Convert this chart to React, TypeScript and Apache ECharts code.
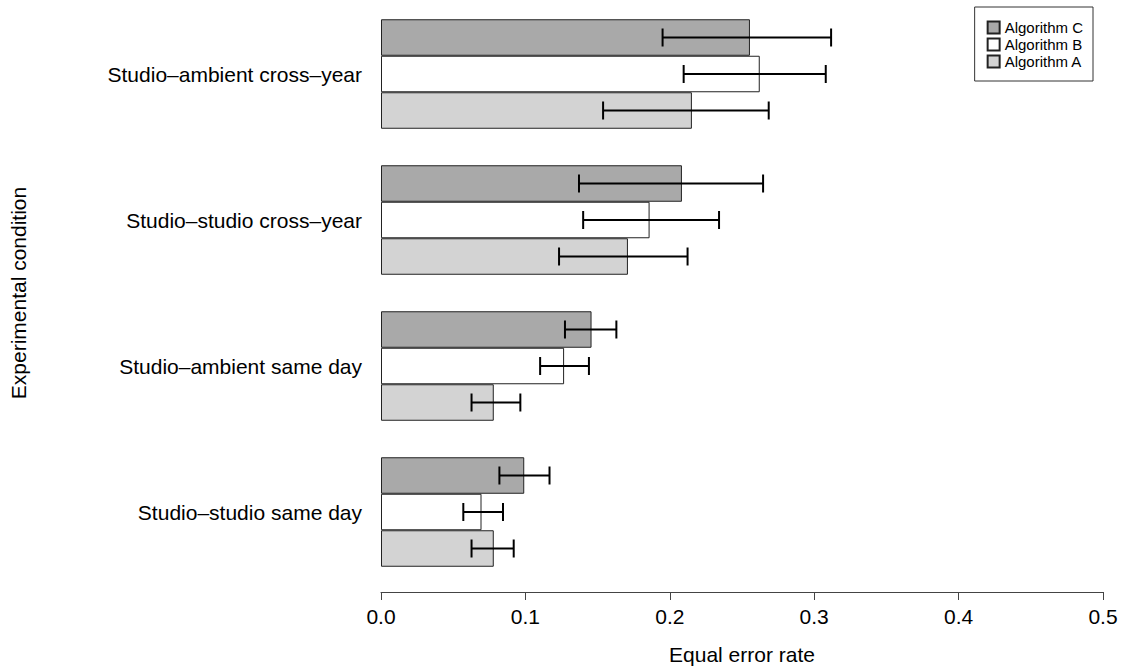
import React, { useEffect, useRef } from "react";
import * as echarts from "echarts";

const categories = [
  "Studio–ambient cross–year",
  "Studio–studio cross–year",
  "Studio–ambient same day",
  "Studio–studio same day",
];
const algorithms = ["Algorithm C", "Algorithm B", "Algorithm A"];
const fills = ["#a9a9a9", "#ffffff", "#d3d3d3"];

const valuesC = [0.2555, 0.2084, 0.1458, 0.0992];
const valuesB = [0.2623, 0.186, 0.1268, 0.0696];
const valuesA = [0.2153, 0.171, 0.0781, 0.0781];

const lowC = [0.195, 0.1371, 0.1274, 0.082];
const highC = [0.3117, 0.2646, 0.163, 0.1167];
const lowB = [0.2096, 0.14, 0.1102, 0.057];
const highB = [0.308, 0.2341, 0.144, 0.0845];
const lowA = [0.1538, 0.1233, 0.0627, 0.0627];
const highA = [0.2685, 0.2123, 0.0965, 0.0919];

const xTicks = [0, 0.1, 0.2, 0.3, 0.4, 0.5];

const FONT = "Liberation Sans, Arial, Helvetica, sans-serif";

export default function App() {
  const ref = useRef<HTMLDivElement>(null);
  useEffect(() => {
    document.body.style.margin = "0";
    const chart = echarts.init(ref.current!, null, { renderer: "svg" });
    const values = [valuesC, valuesB, valuesA];
    const lows = [lowC, lowB, lowA];
    const highs = [highC, highB, highA];

    const barSeries = algorithms.map((name, i) => ({
      name,
      type: "bar",
      data: values[i],
      barGap: "0%",
      barCategoryGap: "25%",
      itemStyle: { color: fills[i], borderColor: "#222", borderWidth: 1 },
      z: 2,
    }));

    const errSeries = algorithms.map((name, i) => ({
      name: name + " err",
      type: "custom",
      z: 5,
      silent: true,
      encode: { x: [1, 2], y: 0 },
      data: categories.map((_, k) => [k, lows[i][k], highs[i][k]]),
      renderItem: (params: any, api: any) => {
        const cat = api.value(0);
        const p1 = api.coord([api.value(1), cat]);
        const p2 = api.coord([api.value(2), cat]);
        const band = Math.abs(api.size([0, 1])[1]);
        const y = p1[1] + (i - 1) * (band / 4);
        const cap = 9;
        const st = { stroke: "#000", lineWidth: 2 };
        return {
          type: "group",
          children: [
            { type: "line", shape: { x1: p1[0], y1: y, x2: p2[0], y2: y }, style: st },
            { type: "line", shape: { x1: p1[0], y1: y - cap, x2: p1[0], y2: y + cap }, style: st },
            { type: "line", shape: { x1: p2[0], y1: y - cap, x2: p2[0], y2: y + cap }, style: st },
          ],
        };
      },
    }));

    chart.setOption({
      animation: false,
      textStyle: { fontFamily: FONT },
      grid: { left: 376.5, right: 20, top: 1, bottom: 86 },
      legend: {
        data: algorithms,
        orient: "vertical",
        right: 30,
        top: 7,
        icon: "rect",
        itemWidth: 12,
        itemHeight: 12,
        itemGap: 2,
        padding: [13, 10, 12, 12],
        borderColor: "#333",
        borderWidth: 1,
        textStyle: { fontSize: 15, color: "#000", fontFamily: FONT },
      },
      xAxis: {
        type: "value",
        min: 0,
        max: 0.5,
        interval: 0.1,
        offset: 7,
        name: "Equal error rate",
        nameLocation: "middle",
        nameGap: 52,
        nameTextStyle: { fontSize: 21, color: "#000", fontFamily: FONT },
        axisLine: { show: true, lineStyle: { color: "#444", width: 1 } },
        axisTick: { show: true, length: 8, lineStyle: { color: "#444" } },
        axisLabel: {
          fontSize: 21,
          color: "#000",
          margin: 14,
          fontFamily: FONT,
          formatter: (v: number) => (xTicks.some((t) => Math.abs(t - v) < 1e-9) ? v.toFixed(1) : ""),
        },
        splitLine: { show: false },
      },
      yAxis: {
        type: "category",
        data: categories,
        inverse: true,
        name: "Experimental condition",
        nameLocation: "middle",
        nameGap: 352,
        nameRotate: 90,
        nameTextStyle: { fontSize: 21, color: "#000", fontFamily: FONT },
        axisLine: { show: false },
        axisTick: { show: false },
        axisLabel: { fontSize: 21, color: "#000", margin: 19, fontFamily: FONT },
        splitLine: { show: false },
      },
      series: [...barSeries, ...errSeries],
    });
    return () => chart.dispose();
  }, []);
  return <div ref={ref} style={{ width: 1123, height: 671 }} />;
}
